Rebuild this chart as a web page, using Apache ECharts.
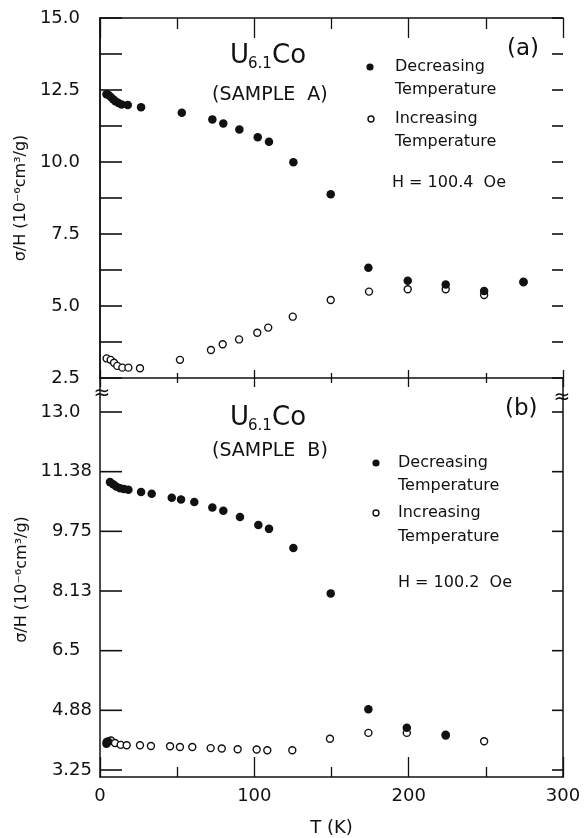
<!DOCTYPE html>
<html>
<head>
<meta charset="utf-8">
<script src="https://cdn.jsdelivr.net/npm/echarts@6/dist/echarts.min.js"></script>
<style>
  html, body { margin: 0; padding: 0; background: #fff; }
  #main { width: 584px; height: 838px; }
</style>
</head>
<body>
<div id="main"></div>
<script>
// sample A (top panel)
var topDecT = [4.2, 5.5, 7, 8.5, 10, 12, 14, 18, 26.6, 53, 72.8, 79.9, 90.3, 102.2, 109.5, 125.3, 149.5, 173.9, 199.4, 224, 248.9, 274.4];
var topDecV = [12.35, 12.33, 12.26, 12.18, 12.11, 12.05, 12.0, 11.98, 11.9, 11.71, 11.48, 11.34, 11.13, 10.86, 10.7, 9.99, 8.88, 6.33, 5.88, 5.75, 5.52, 5.84];
var topIncT = [4.3, 6.9, 9.1, 11.2, 14.5, 18.4, 25.9, 51.8, 71.9, 79.5, 90.1, 101.9, 109, 124.9, 149.5, 174.3, 199.4, 224, 248.9, 274.4];
var topIncV = [3.18, 3.13, 3.03, 2.92, 2.86, 2.86, 2.84, 3.13, 3.47, 3.67, 3.84, 4.07, 4.25, 4.63, 5.21, 5.5, 5.58, 5.58, 5.38, 5.82];

// sample B (bottom panel)
var botDecT = [4.2, 5.2, 6.5, 8.5, 10.5, 13, 15.5, 18.4, 26.6, 33.5, 46.5, 52.5, 61.1, 72.8, 79.9, 90.7, 102.6, 109.5, 125.3, 149.5, 173.9, 198.8, 224];
var botDecV = [3.84, 3.9, 11.06, 11.0, 10.94, 10.89, 10.87, 10.85, 10.79, 10.74, 10.63, 10.58, 10.51, 10.36, 10.27, 10.1, 9.88, 9.77, 9.24, 7.99, 4.79, 4.28, 4.07];
var botIncT = [4.3, 7.1, 9.7, 13.4, 17.3, 25.9, 33, 45.4, 51.8, 59.8, 71.7, 78.9, 89.2, 101.5, 108.4, 124.6, 149, 173.9, 198.8, 224, 248.9];
var botIncV = [3.89, 3.93, 3.86, 3.81, 3.8, 3.8, 3.78, 3.77, 3.75, 3.75, 3.72, 3.71, 3.69, 3.68, 3.66, 3.66, 3.98, 4.14, 4.14, 4.09, 3.91];

// y ticks
var topYTicks = [2.5, 3.75, 5.0, 6.25, 7.5, 8.75, 10.0, 11.25, 12.5, 13.75, 15.0];
var botYTicks = [3.25, 4.875, 6.5, 8.125, 9.75, 11.375, 13.0];
var botYLabels = ['3.25', '4.88', '6.5', '8.13', '9.75', '11.38', '13.0'];

var font = 'DejaVu Sans';
var ink = '#111';

function zip(xs, ys) {
  var out = [];
  for (var i = 0; i < xs.length; i++) out.push([xs[i], ys[i]]);
  return out;
}

var line = { show: true, lineStyle: { color: ink, width: 1.5 } };
var tickLine = { color: ink, width: 1.3 };

function xAx(grid, pos, opts) {
  return Object.assign({
    type: 'value', gridIndex: grid, position: pos, min: 0, max: 300, interval: 100,
    axisLine: line, splitLine: { show: false }, axisLabel: { show: false }
  }, opts);
}

var myChart = echarts.init(document.getElementById('main'));

var yName = 'σ/H (10⁻⁶cm³/g)';
var nameStyle = { fontFamily: font, fontSize: 16, color: ink };

var opened = { color: '#fff', borderColor: ink, borderWidth: 1.4, opacity: 1 };
var filled = { color: ink, opacity: 1 };

function txt(x, y, s, size, align) {
  return {
    type: 'text', x: x, y: y,
    style: { text: s, fontFamily: font, fontSize: size, fill: ink, align: align || 'left', verticalAlign: 'middle' }
  };
}
function dot(cx, cy, open) {
  return {
    type: 'circle', shape: { cx: cx, cy: cy, r: open ? 3 : 3.6 },
    style: open ? { fill: '#fff', stroke: ink, lineWidth: 1.4 } : { fill: ink }
  };
}

// frame geometry
var frameL = 100, frameR = 563;
var topY0 = 18, topH = 360, topMin = 2.5, topMax = 15;
// lower panel: frame spans 398..782, labelled ticks 3.25 (y=770) .. 13.0 (y=412)
var pxPerUnit = 358 / 9.75;
var botMin = 3.25 - 12 / pxPerUnit;
var botMax = 13.0 + 14 / pxPerUnit;
var botY0 = 398, botH = 384;

// inward y ticks on both frame sides
function yTicks(values, y0, h, min, max) {
  var out = [];
  values.forEach(function (v) {
    var y = y0 + (max - v) / (max - min) * h;
    out.push({ type: 'line', z: 20, shape: { x1: frameL, y1: y, x2: frameL + 22, y2: y }, style: { stroke: ink, lineWidth: 1.6 } });
    out.push({ type: 'line', z: 20, shape: { x1: frameR - 11, y1: y, x2: frameR, y2: y }, style: { stroke: ink, lineWidth: 1.6 } });
  });
  return out;
}

var decor = [
  // axis break
  { type: 'line', shape: { x1: frameL, y1: 378, x2: frameL, y2: 398 }, style: { stroke: ink, lineWidth: 1.5 } },
  { type: 'line', shape: { x1: frameR, y1: 378, x2: frameR, y2: 398 }, style: { stroke: ink, lineWidth: 1.5 } },
  Object.assign(txt(102, 394, '≈', 20, 'center'), { z: 10 }),
  Object.assign(txt(562, 398, '≈', 20, 'center'), { z: 10 }),
  // panel (a)
  txt(230, 56, 'U', 26), txt(248, 64, '6.1', 15), txt(272, 56, 'Co', 26),
  txt(212, 95, '(SAMPLE  A)', 19),
  txt(507, 49, '(a)', 23),
  dot(370, 67, false), txt(395, 67, 'Decreasing', 16), txt(395, 90, 'Temperature', 16),
  dot(371, 119, true), txt(395, 119, 'Increasing', 16), txt(395, 142, 'Temperature', 16),
  txt(392, 183, 'H = 100.4  Oe', 16),
  // panel (b)
  txt(230, 418, 'U', 26), txt(248, 426, '6.1', 15), txt(272, 418, 'Co', 26),
  txt(212, 451, '(SAMPLE  B)', 19),
  txt(505, 409, '(b)', 23),
  dot(376, 463, false), txt(398, 463, 'Decreasing', 16), txt(398, 486, 'Temperature', 16),
  dot(376, 513, true), txt(398, 513, 'Increasing', 16), txt(398, 537, 'Temperature', 16),
  txt(398, 583, 'H = 100.2  Oe', 16)
].concat(yTicks(topYTicks, topY0, topH, topMin, topMax), yTicks(botYTicks, botY0, botH, botMin, botMax));

myChart.setOption({
  backgroundColor: '#fff',
  animation: false,
  grid: [
    { left: frameL, right: 584 - frameR, top: topY0, height: topH },
    { left: frameL, right: 584 - frameR, top: botY0, height: botH },
    { left: frameL, right: 584 - frameR, top: 412, height: 358 }
  ],
  xAxis: [
    xAx(0, 'bottom', { axisTick: { inside: true, length: 8, lineStyle: tickLine },
      minorTick: { show: true, splitNumber: 2, length: 5, lineStyle: tickLine } }),
    xAx(0, 'bottom', { axisLine: { show: false }, axisTick: { inside: false, length: 9, lineStyle: tickLine },
      minorTick: { show: true, splitNumber: 2, length: 5, lineStyle: tickLine } }),
    xAx(0, 'top', { axisTick: { inside: true, length: 20, lineStyle: tickLine },
      minorTick: { show: true, splitNumber: 2, length: 11, lineStyle: tickLine } }),
    xAx(1, 'bottom', {
      axisTick: { inside: true, length: 20, lineStyle: tickLine },
      minorTick: { show: true, splitNumber: 2, length: 10, lineStyle: tickLine },
      axisLabel: { show: true, margin: 10, fontFamily: font, fontSize: 18, color: ink },
      name: 'T (K)', nameLocation: 'middle', nameGap: 42, nameTextStyle: { fontFamily: font, fontSize: 18, color: ink }
    }),
    xAx(2, 'bottom', { show: false })
  ],
  yAxis: [
    {
      type: 'value', gridIndex: 0, position: 'left', min: topMin, max: topMax, interval: 2.5,
      axisLine: line, splitLine: { show: false }, axisTick: { show: false },
      axisLabel: { margin: 20, fontFamily: font, fontSize: 18, color: ink,
        formatter: function (v) { return v.toFixed(1); } },
      name: yName, nameLocation: 'middle', nameGap: 70, nameRotate: 90, nameTextStyle: nameStyle
    },
    {
      type: 'value', gridIndex: 0, position: 'right', min: topMin, max: topMax,
      axisLine: line, splitLine: { show: false }, axisLabel: { show: false }, axisTick: { show: false }
    },
    {
      type: 'value', gridIndex: 1, position: 'left', min: botMin, max: botMax,
      axisLine: line, splitLine: { show: false }, axisLabel: { show: false }, axisTick: { show: false },
      name: yName, nameLocation: 'middle', nameGap: 70, nameRotate: 90,
      nameTextStyle: Object.assign({ padding: [0, 0, 0, 16] }, nameStyle)
    },
    {
      type: 'value', gridIndex: 1, position: 'right', min: botMin, max: botMax,
      axisLine: line, splitLine: { show: false }, axisLabel: { show: false }, axisTick: { show: false }
    },
    {
      type: 'value', gridIndex: 2, position: 'left', min: 3.25, max: 13.0, interval: 1.625,
      axisLine: { show: false }, splitLine: { show: false }, axisTick: { show: false },
      axisLabel: { margin: 8, fontFamily: font, fontSize: 18, color: ink,
        formatter: function (v) {
          var s = botYLabels[Math.round((v - 3.25) / 1.625)];
          return s.split('.')[1].length === 1 ? s + '\u2007' : s;
        } }
    }
  ],
  series: [
    { name: 'Increasing Temperature A', type: 'scatter', xAxisIndex: 0, yAxisIndex: 0, symbol: 'circle', symbolSize: 7, itemStyle: opened, data: zip(topIncT, topIncV) },
    { name: 'Decreasing Temperature A', type: 'scatter', xAxisIndex: 0, yAxisIndex: 0, symbol: 'circle', symbolSize: 8.5, itemStyle: filled, data: zip(topDecT, topDecV) },
    { name: 'Increasing Temperature B', type: 'scatter', xAxisIndex: 3, yAxisIndex: 2, symbol: 'circle', symbolSize: 7, itemStyle: opened, data: zip(botIncT, botIncV) },
    { name: 'Decreasing Temperature B', type: 'scatter', xAxisIndex: 3, yAxisIndex: 2, symbol: 'circle', symbolSize: 8.5, itemStyle: filled, data: zip(botDecT, botDecV) }
  ],
  graphic: decor
});
</script>
</body>
</html>
